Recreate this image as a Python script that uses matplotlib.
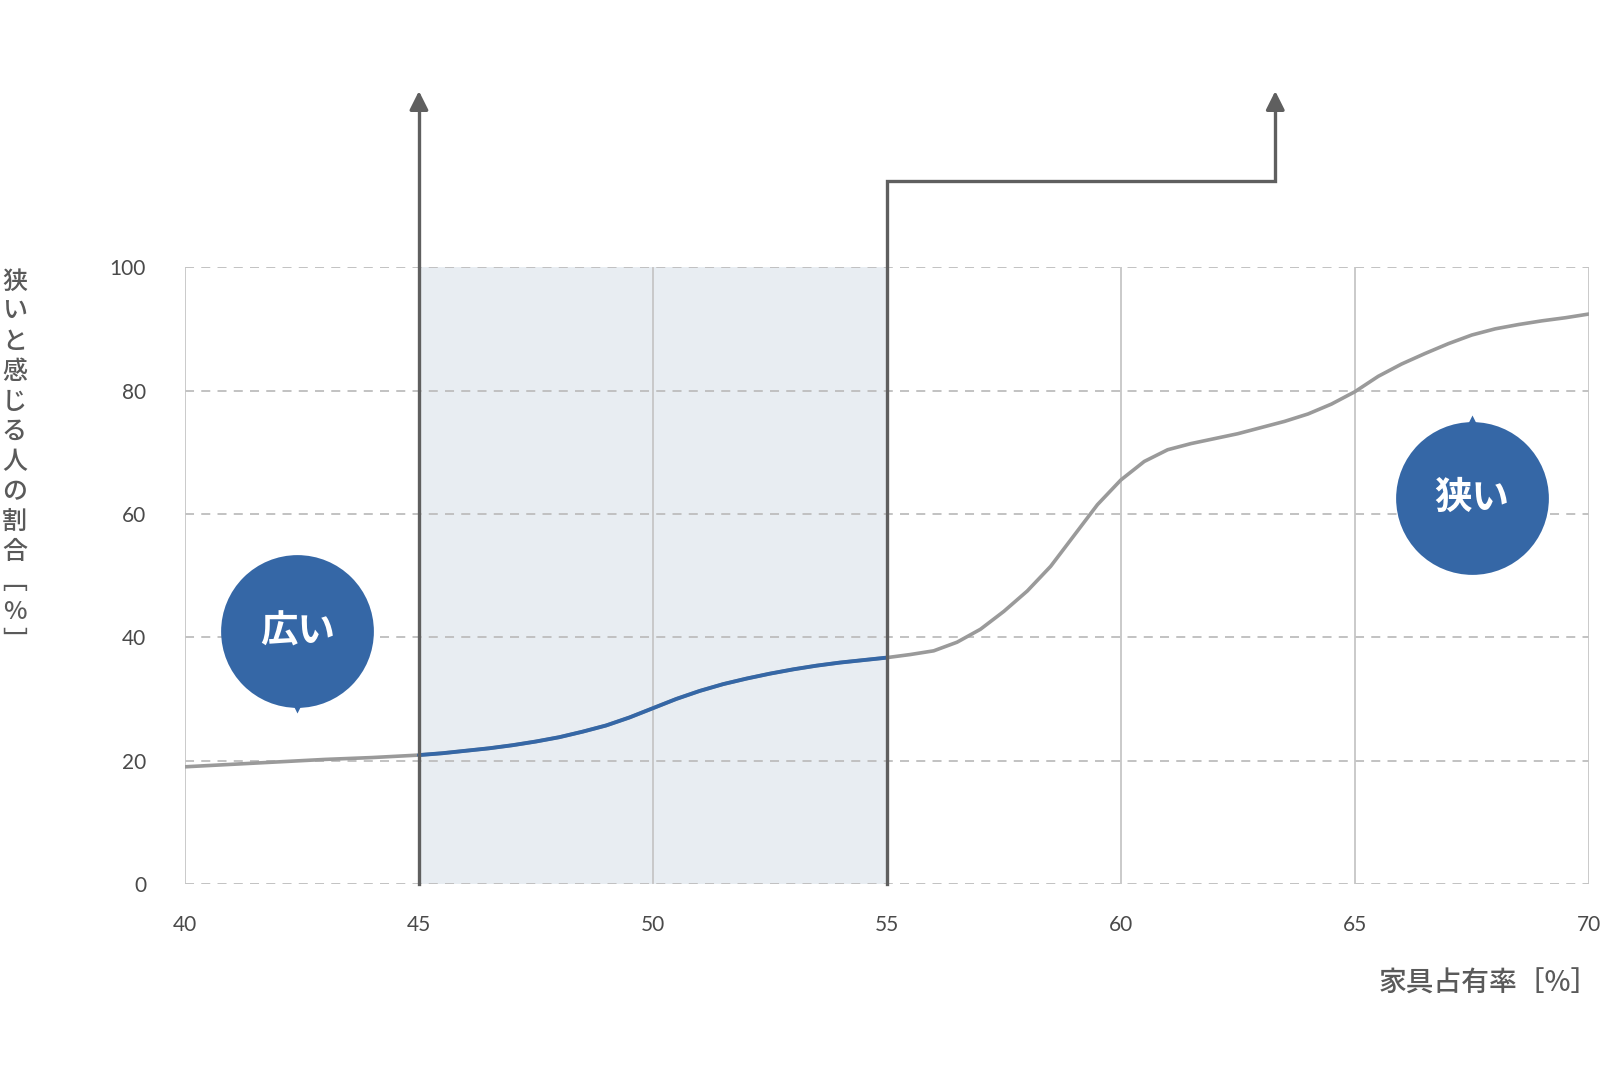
import matplotlib
matplotlib.use('Agg')
import matplotlib.pyplot as plt
from matplotlib.transforms import offset_copy

plt.rcParams['font.family'] = ['Noto Sans CJK JP', 'DejaVu Sans']

# furniture occupancy [%] vs share of people who feel the room is narrow [%]
occupancy = [40, 41, 42, 43, 44, 45, 45.5, 46, 46.5, 47, 47.5, 48, 48.5, 49, 49.5,
             50, 50.5, 51, 51.5, 52, 52.5, 53, 53.5, 54, 54.5, 55, 55.5, 56, 56.5,
             57, 57.5, 58, 58.5, 59, 59.5, 60, 60.5, 61, 61.5, 62, 62.5, 63, 63.5,
             64, 64.5, 65, 65.5, 66, 66.5, 67, 67.5, 68, 68.5, 69, 69.5, 70]
narrow_share = [19.0, 19.4, 19.8, 20.2, 20.5, 20.9, 21.2, 21.6, 22.0, 22.5, 23.1, 23.8, 24.7, 25.7, 27.0,
                28.5, 30.0, 31.3, 32.4, 33.3, 34.1, 34.8, 35.4, 35.9, 36.3, 36.7, 37.2, 37.8, 39.2,
                41.3, 44.2, 47.5, 51.5, 56.5, 61.5, 65.5, 68.5, 70.4, 71.4, 72.2, 73.0, 74.0, 75.0,
                76.2, 77.8, 79.8, 82.3, 84.3, 86.0, 87.6, 89.0, 90.0, 90.7, 91.3, 91.8, 92.4]
x_ticks = [40, 45, 50, 55, 60, 65, 70]
y_ticks = [0, 20, 40, 60, 80, 100]
comfort_lo, comfort_hi = 45, 55

grey = '#9a9a9a'
blue = '#3567a6'
dark = '#5f5f5f'

fig = plt.figure(figsize=(16, 10.86), dpi=100)
ax = fig.add_axes([0.1156, 0.186, 0.8774, 0.568])
ax.set_xlim(40, 70)
ax.set_ylim(0, 100)
for s in ax.spines.values():
    s.set_visible(False)
ax.set_xticks(x_ticks)
ax.set_yticks(y_ticks)
ax.set_xticklabels([str(v) for v in x_ticks])
ax.set_yticklabels([str(v) for v in y_ticks])
ax.tick_params(length=0, labelcolor='#4a4a4a', labelsize=15)
ax.tick_params(axis='x', pad=22)
ax.tick_params(axis='y', pad=28)
for lab in ax.get_xticklabels() + ax.get_yticklabels():
    lab.set_fontfamily(['Lato', 'DejaVu Sans'])

# shaded band
ax.axvspan(comfort_lo, comfort_hi, color='#e8edf2', zorder=0, lw=0)

# grid
for yv in y_ticks:
    ax.axhline(yv, color='#bdbdbd', lw=1.3, ls=(0, (5, 4)), zorder=1)
for xv in x_ticks:
    ax.axvline(xv, color='#c6c6c6', lw=1.3, zorder=1)

# curve: grey outside, blue inside the band
ax.plot(occupancy, narrow_share, color=grey, lw=2.6, zorder=3,
        solid_capstyle='round', solid_joinstyle='round')
inside = [i for i, v in enumerate(occupancy) if comfort_lo <= v <= comfort_hi]
ax.plot([occupancy[i] for i in inside], [narrow_share[i] for i in inside],
        color=blue, lw=2.8, zorder=4, solid_capstyle='round', solid_joinstyle='round')

# arrows
arrow_top = 129
ax.plot([comfort_lo, comfort_lo], [0, arrow_top - 3], color=dark, lw=2.4, clip_on=False, zorder=5)
ax.annotate('', xy=(comfort_lo, arrow_top), xytext=(comfort_lo, arrow_top - 4),
            arrowprops=dict(arrowstyle='-|>', color=dark, lw=2.4, mutation_scale=28),
            annotation_clip=False, zorder=5)
bend_x, bend_y = 63.3, 114
ax.plot([comfort_hi, comfort_hi, bend_x, bend_x], [0, bend_y, bend_y, arrow_top - 3],
        color=dark, lw=2.4, clip_on=False, zorder=5, solid_joinstyle='miter')
ax.annotate('', xy=(bend_x, arrow_top), xytext=(bend_x, arrow_top - 4),
            arrowprops=dict(arrowstyle='-|>', color=dark, lw=2.4, mutation_scale=28),
            annotation_clip=False, zorder=5)

# speech bubbles
bubbles = [('広い', 42.4, 41.0, 'down'), ('狭い', 67.5, 62.6, 'up')]
for label, bx, by, tail in bubbles:
    ax.plot([bx], [by], marker='o', ms=110, color=blue, mec='none', zorder=6)
    if tail == 'down':
        tr = offset_copy(ax.transData, fig=fig, y=-55, units='points')
        ax.plot([bx], [by], marker='v', ms=8, color=blue, mec='none', transform=tr, zorder=6)
    else:
        tr = offset_copy(ax.transData, fig=fig, y=55, units='points')
        ax.plot([bx], [by], marker='^', ms=8, color=blue, mec='none', transform=tr, zorder=6)
    ax.text(bx, by, label, color='white', fontsize=27, fontweight='bold',
            ha='center', va='center', zorder=7)

# axis titles
ylab = '狭いと感じる人の割合\ufe47%\ufe48'
fig.text(0.009, 0.752, '\n'.join(ylab), fontsize=18, color='#5a5a5a', fontweight='medium',
         ha='center', va='top', linespacing=1.2)
fig.text(0.999, 0.095, '家具占有率［%］', fontsize=20, color='#5a5a5a', fontweight='medium',
         ha='right', va='center')

fig.savefig('out.png', dpi=100)
